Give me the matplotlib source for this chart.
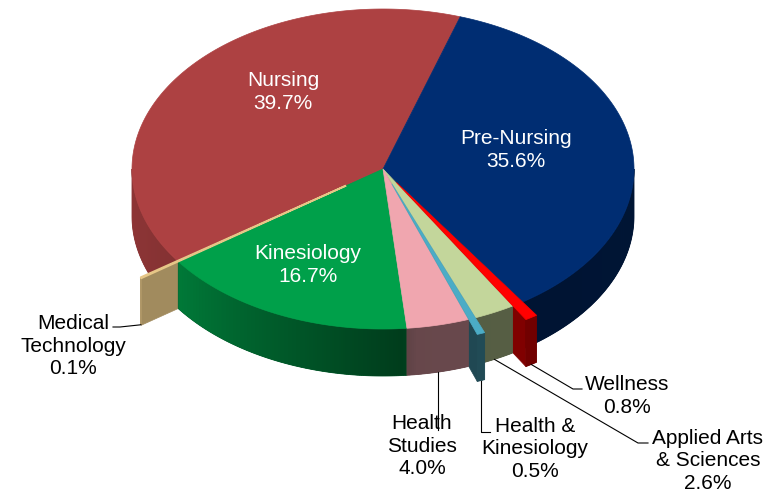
import numpy as np
import matplotlib.pyplot as plt
from matplotlib.colors import to_rgb

plt.rcParams["font.family"] = ["Liberation Sans", "DejaVu Sans"]

# data, listed clockwise starting at the Nursing slice
categories = ["Nursing", "Pre-Nursing", "Wellness", "Applied Arts\n& Sciences",
              "Health &\nKinesiology", "Health\nStudies", "Kinesiology",
              "Medical\nTechnology"]
shares = [39.7, 35.6, 0.8, 2.6, 0.5, 4.0, 16.7, 0.1]
explode = [0.0, 0.0, 0.1, 0.0, 0.1, 0.0, 0.0, 0.18]

# styles
colors = ["#AD4142", "#002D72", "#FF0000", "#C3D69B",
          "#4BACC6", "#F0A6AF", "#00A04A", "#E6C687"]
face_shade = [0.5, 0.5, 0.5, 0.5, 0.42, 0.5, 0.5, 0.7]

# pie geometry (pixels, y down)
CX, CY = 383, 169
RX, RY = 251, 160
DEPTH = 47
START = 215.0


def wall_shade(theta):
    return np.interp(theta, [-180, -145, -86, -82, 0], [0.84, 0.76, 0.38, 0.43, 0.47])


def shade(color, f):
    return tuple(c * f for c in to_rgb(color))


def point(theta, r=1.0, z=0.0, off=(0.0, 0.0)):
    t = np.radians(theta)
    return (CX + off[0] + r * RX * np.cos(t), CY + off[1] - r * RY * np.sin(t) + z)


fracs = np.array(shares) / sum(shares)
hi = START - 360 * np.concatenate([[0], np.cumsum(fracs)[:-1]])
lo = hi - 360 * fracs
mid = (lo + hi) / 2
n = len(shares)
offsets = [(e * RX * np.cos(np.radians(m)), -e * RY * np.sin(np.radians(m)))
           for e, m in zip(explode, mid)]

dist = np.abs(((mid + 270) % 360) - 180)
order = list(np.argsort(-dist))

fig = plt.figure(figsize=(7.81, 4.95), dpi=100)
ax = fig.add_axes([0, 0, 1, 1])
ax.set_xlim(0, 781)
ax.set_ylim(495, 0)
ax.axis("off")


def poly(pts, color, lw=0.5, z=1):
    xs, ys = zip(*pts)
    ax.fill(xs, ys, facecolor=color, edgecolor=color if lw > 0 else "none",
            linewidth=lw, zorder=z)


# side walls and cut faces, back to front
for i in order:
    off = offsets[i]
    faces = []
    prev_i, next_i = (i - 1) % n, (i + 1) % n
    if np.cos(np.radians(hi[i])) < 0 and (explode[i] > 0 or explode[prev_i] > 0):
        faces.append(hi[i])
    if np.cos(np.radians(lo[i])) > 0 and (explode[i] > 0 or explode[next_i] > 0):
        faces.append(lo[i])
    for th in faces:
        pts = [point(th, 0, 0, off), point(th, 1, 0, off),
               point(th, 1, DEPTH, off), point(th, 0, DEPTH, off)]
        poly(pts, shade(colors[i], face_shade[i]))
    for k in (-1, 0, 1):
        a = max(lo[i], -180 + 360 * k)
        b = min(hi[i], 360 * k)
        if b <= a:
            continue
        ts = np.linspace(a, b, max(2, int((b - a) / 0.5) + 1))
        # solid underlay so the gradient strips leave no seams
        base = [point(t, 1, 0, off) for t in ts] + \
               [point(t, 1, DEPTH, off) for t in ts[::-1]]
        poly(base, shade(colors[i], wall_shade((a + b) / 2 - 360 * k)), lw=0.6)
        step = ts[1] - ts[0]
        for t1, t2 in zip(ts[:-1], ts[1:]):
            t3 = min(t2 + 0.6 * step, b)
            arc = np.linspace(t1, t3, 3)
            pts = [point(t, 1, 0, off) for t in arc] + \
                  [point(t, 1, DEPTH, off) for t in arc[::-1]]
            poly(pts, shade(colors[i], wall_shade((t1 + t2) / 2 - 360 * k)), lw=0)

# top faces: flat slices first, exploded ones on top
top_order = [i for i in order if explode[i] == 0] + [i for i in order if explode[i] > 0]
for i in top_order:
    off = offsets[i]
    ts = np.linspace(lo[i], hi[i], max(3, int((hi[i] - lo[i]) / 0.5) + 1))
    pts = [point(0, 0, 0, off)] + [point(t, 1, 0, off) for t in ts]
    poly(pts, colors[i], lw=1.3 if i == 7 else 0.5, z=2)

pct = [f"{v:.1f}%" for v in shares]

# labels inside the big slices
inside_pos = {0: (283, 92), 1: (516, 150), 6: (308, 265)}
for i, (x, y) in inside_pos.items():
    ax.text(x, y, f"{categories[i]}\n{pct[i]}", color="white", fontsize=15,
            ha="center", va="center", linespacing=1.25, zorder=5)

# outside labels with leader lines
outside = {
    2: ((627, 396), [(573, 389), (582, 389)]),
    3: ((708, 461), [(638, 443), (648, 443)]),
    4: ((535, 449), [(None, 432), (490, 432)]),
    5: ((422, 446), [(None, 430)]),
    7: ((73, 346), [(120, 327), (113, 327)]),
}
for i, ((tx, ty), path) in outside.items():
    ax_, ay_ = point(mid[i], 1 + explode[i], DEPTH)
    xs, ys = [ax_], [ay_]
    for px, py in path:
        xs.append(ax_ if px is None else px)
        ys.append(py)
    ax.plot(xs, ys, color="black", linewidth=0.8, zorder=4)
    ax.text(tx, ty, f"{categories[i]}\n{pct[i]}", color="black", fontsize=15,
            ha="center", va="center", linespacing=1.25, zorder=5)

fig.savefig("out.png", dpi=100)
plt.close(fig)
